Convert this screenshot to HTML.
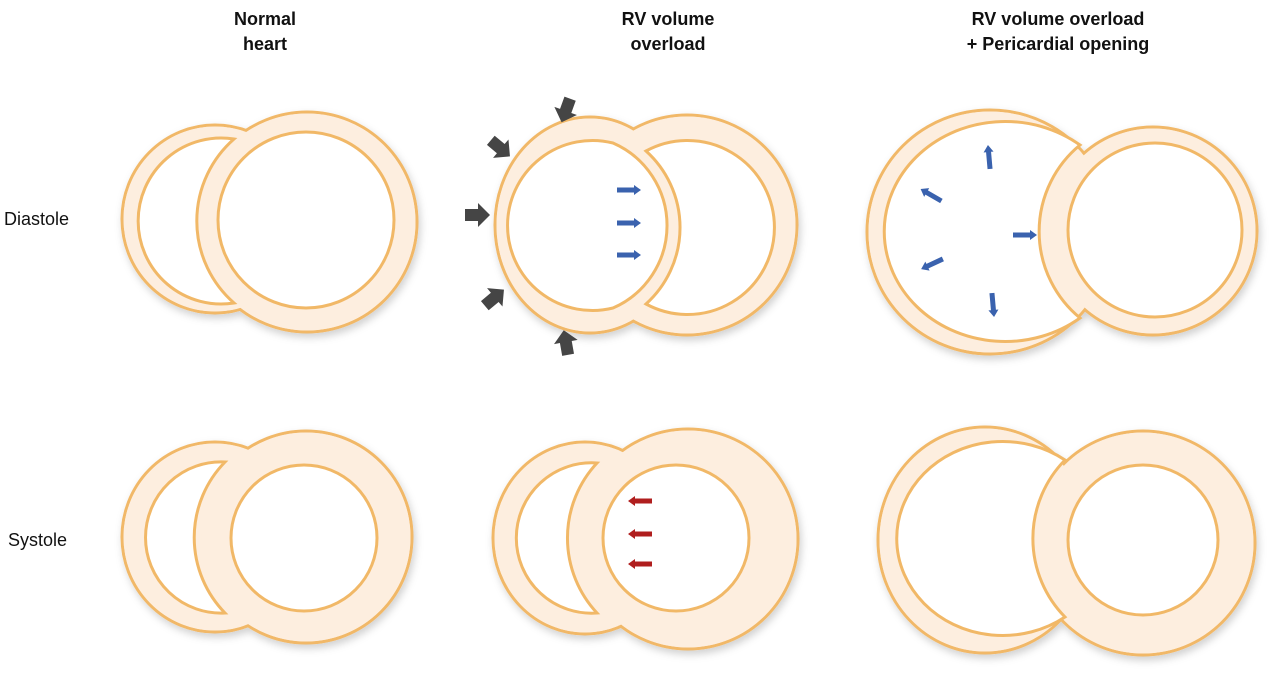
<!DOCTYPE html>
<html><head><meta charset="utf-8"><style>
html,body{margin:0;padding:0;background:#fff;}
svg{display:block;}
text{font-family:"Liberation Sans",sans-serif;fill:#111;}
.t{font-weight:bold;font-size:18px;text-anchor:middle;}
.l{font-size:18px;}
</style></head><body>
<svg width="1280" height="675" viewBox="0 0 1280 675" xmlns="http://www.w3.org/2000/svg">
<defs>
<filter id="sh" x="-20%" y="-20%" width="140%" height="140%">
<feDropShadow dx="2" dy="4" stdDeviation="4" flood-color="#000" flood-opacity="0.18"/>
</filter>
</defs>

<text class="t" x="265" y="25">Normal</text>
<text class="t" x="265" y="50">heart</text>
<text class="t" x="668" y="25">RV volume</text>
<text class="t" x="668" y="50">overload</text>
<text class="t" x="1058" y="25">RV volume overload</text>
<text class="t" x="1058" y="50">+ Pericardial opening</text>
<text class="l" x="4" y="225">Diastole</text>
<text class="l" x="8" y="546">Systole</text>

<g filter="url(#sh)">
<ellipse cx="215" cy="219" rx="93" ry="94" fill="#fdeedf" stroke="#f1b867" stroke-width="3"/>
<circle cx="307" cy="222" r="110" fill="#fdeedf" stroke="#f1b867" stroke-width="3"/>
<ellipse cx="590" cy="225" rx="95" ry="108" fill="#fdeedf" stroke="#f1b867" stroke-width="3"/>
<circle cx="687" cy="225" r="110" fill="#fdeedf" stroke="#f1b867" stroke-width="3"/>
<ellipse cx="990" cy="232" rx="123" ry="122" fill="#fdeedf" stroke="#f1b867" stroke-width="3"/>
<circle cx="1153" cy="231" r="104" fill="#fdeedf" stroke="#f1b867" stroke-width="3"/>
<ellipse cx="215" cy="537" rx="93" ry="95" fill="#fdeedf" stroke="#f1b867" stroke-width="3"/>
<circle cx="306" cy="537" r="106" fill="#fdeedf" stroke="#f1b867" stroke-width="3"/>
<ellipse cx="585" cy="538" rx="92" ry="96" fill="#fdeedf" stroke="#f1b867" stroke-width="3"/>
<circle cx="688" cy="539" r="110" fill="#fdeedf" stroke="#f1b867" stroke-width="3"/>
<ellipse cx="985" cy="540" rx="107" ry="113" fill="#fdeedf" stroke="#f1b867" stroke-width="3"/>
<circle cx="1143" cy="543" r="112" fill="#fdeedf" stroke="#f1b867" stroke-width="3"/>
</g>
<ellipse cx="215" cy="219" rx="91.5" ry="92.5" fill="#fdeedf"/>
<circle cx="307" cy="222" r="108.5" fill="#fdeedf"/>
<ellipse cx="590" cy="225" rx="93.5" ry="106.5" fill="#fdeedf"/>
<circle cx="687" cy="225" r="108.5" fill="#fdeedf"/>
<ellipse cx="990" cy="232" rx="121.5" ry="120.5" fill="#fdeedf"/>
<circle cx="1153" cy="231" r="102.5" fill="#fdeedf"/>
<ellipse cx="215" cy="537" rx="91.5" ry="93.5" fill="#fdeedf"/>
<circle cx="306" cy="537" r="104.5" fill="#fdeedf"/>
<ellipse cx="585" cy="538" rx="90.5" ry="94.5" fill="#fdeedf"/>
<circle cx="688" cy="539" r="108.5" fill="#fdeedf"/>
<ellipse cx="985" cy="540" rx="105.5" ry="111.5" fill="#fdeedf"/>
<circle cx="1143" cy="543" r="110.5" fill="#fdeedf"/>

<g fill="#fff" stroke="#f1b867" stroke-width="3">
<path d="M234,139 A83,83 0 1,0 234,303 A109,109 0 0,1 234,139 Z"/>
<circle cx="306" cy="220" r="88"/>
<path d="M613,143 A85,85 0 1,0 613,308 A90,90 0 0,0 613,143 Z"/>
<path d="M646,151 A87,87 0 1,1 646,304 A103,103 0 0,0 646,151 Z"/>
<path d="M1080,145 A121,110 0 1,0 1080,318 A112,112 0 0,1 1080,145 Z"/>
<circle cx="1155" cy="230" r="87"/>
<path d="M225,462 A75.6,75.6 0 1,0 225,613 A108,108 0 0,1 225,462 Z"/>
<circle cx="304" cy="538" r="73"/>
<path d="M597,463 A75.2,75.2 0 1,0 597,613 A110,110 0 0,1 597,463 Z"/>
<circle cx="676" cy="538" r="73"/>
<path d="M1065,460 A106,97 0 1,0 1065,617 A112,112 0 0,1 1065,460 Z"/>
<circle cx="1143" cy="540" r="75"/>
</g>

<g fill="#454545">
<polygon points="-12,-6 1,-6 1,-12 13,0 1,12 1,6 -12,6" transform="translate(566,110) rotate(110)"/>
<polygon points="-12,-6 1,-6 1,-12 13,0 1,12 1,6 -12,6" transform="translate(500,148) rotate(40)"/>
<polygon points="-12,-6 1,-6 1,-12 13,0 1,12 1,6 -12,6" transform="translate(477,215) rotate(0)"/>
<polygon points="-12,-6 1,-6 1,-12 13,0 1,12 1,6 -12,6" transform="translate(494,298) rotate(-40)"/>
<polygon points="-12,-6 1,-6 1,-12 13,0 1,12 1,6 -12,6" transform="translate(566,343) rotate(-100)"/>
</g>

<g fill="#3a62ae">
<polygon points="-12,-2.5 5,-2.5 5,-5 12,0 5,5 5,2.5 -12,2.5" transform="translate(629,190)"/>
<polygon points="-12,-2.5 5,-2.5 5,-5 12,0 5,5 5,2.5 -12,2.5" transform="translate(629,223)"/>
<polygon points="-12,-2.5 5,-2.5 5,-5 12,0 5,5 5,2.5 -12,2.5" transform="translate(629,255)"/>
<polygon points="-12,-2.5 5,-2.5 5,-5 12,0 5,5 5,2.5 -12,2.5" transform="translate(989,157) rotate(-95)"/>
<polygon points="-12,-2.5 5,-2.5 5,-5 12,0 5,5 5,2.5 -12,2.5" transform="translate(931,195) rotate(-150)"/>
<polygon points="-12,-2.5 5,-2.5 5,-5 12,0 5,5 5,2.5 -12,2.5" transform="translate(1025,235)"/>
<polygon points="-12,-2.5 5,-2.5 5,-5 12,0 5,5 5,2.5 -12,2.5" transform="translate(932,264) rotate(155)"/>
<polygon points="-12,-2.5 5,-2.5 5,-5 12,0 5,5 5,2.5 -12,2.5" transform="translate(993,305) rotate(85)"/>
</g>

<g fill="#b01e1e">
<polygon points="-12,-2.5 5,-2.5 5,-5 12,0 5,5 5,2.5 -12,2.5" transform="translate(640,501) rotate(180)"/>
<polygon points="-12,-2.5 5,-2.5 5,-5 12,0 5,5 5,2.5 -12,2.5" transform="translate(640,534) rotate(180)"/>
<polygon points="-12,-2.5 5,-2.5 5,-5 12,0 5,5 5,2.5 -12,2.5" transform="translate(640,564) rotate(180)"/>
</g>
</svg>
</body></html>
